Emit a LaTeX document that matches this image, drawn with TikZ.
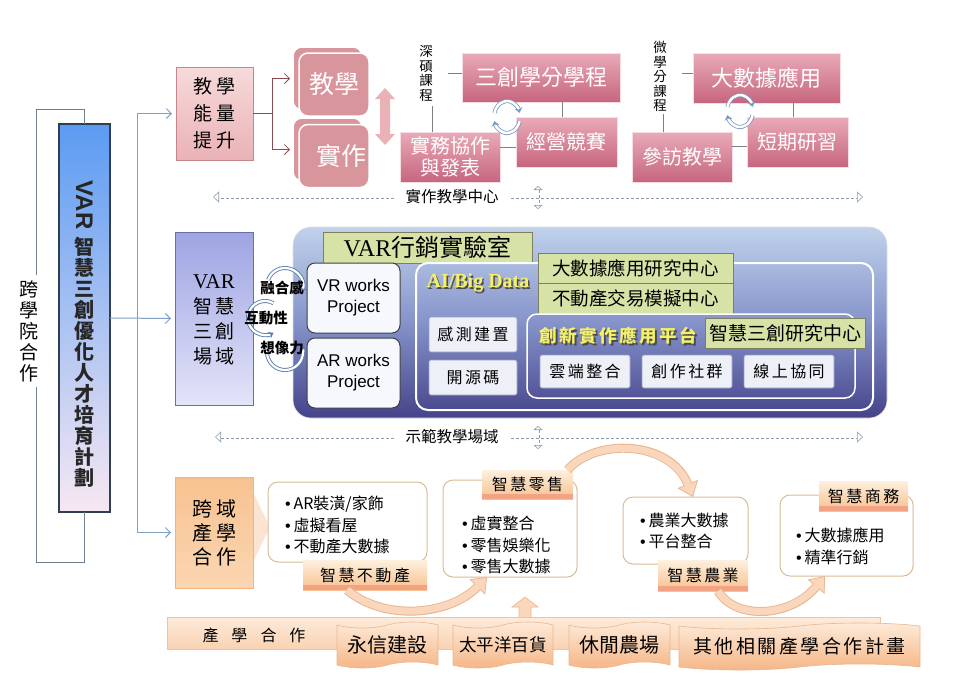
\documentclass[tikz,border=0pt]{standalone}
\usepackage{fontspec}
\setmainfont{Liberation Serif}
\setsansfont{Liberation Sans}
\newfontfamily\cjk{Noto Sans CJK TC}
\usetikzlibrary{arrows.meta,shapes.symbols,calc}

\definecolor{brk}{HTML}{6E7F90}
\definecolor{conn}{HTML}{7FA0C0}
\definecolor{dred}{HTML}{8E4A4E}
\definecolor{pinkA}{HTML}{F7DADB}
\definecolor{pinkB}{HTML}{EAB2B6}
\definecolor{pinkD}{HTML}{C4868A}
\definecolor{cardc}{HTML}{D8959C}
\definecolor{roseT}{HTML}{E9AAB8}
\definecolor{roseB}{HTML}{C6667E}
\definecolor{grayln}{HTML}{7F7F7F}
\definecolor{dashc}{HTML}{8E9BAA}
\definecolor{lavT}{HTML}{9EA4E2}
\definecolor{lavB}{HTML}{E3E4F8}
\definecolor{lavD}{HTML}{6A6FA8}
\definecolor{panT}{HTML}{C0D2EB}
\definecolor{panM}{HTML}{8593CA}
\definecolor{panB}{HTML}{45438A}
\definecolor{olivebx}{HTML}{D6E2A6}
\definecolor{oliveD}{HTML}{7C8060}
\definecolor{ylw}{HTML}{F4F06A}
\definecolor{ringc}{HTML}{5B7FAE}
\definecolor{orT}{HTML}{F7C290}
\definecolor{orB}{HTML}{FBD6B2}
\definecolor{orD}{HTML}{F0B47C}
\definecolor{tanc}{HTML}{D9BC96}
\definecolor{labT}{HTML}{FEF0DE}
\definecolor{labB}{HTML}{F7C08E}
\definecolor{labS}{HTML}{F2A384}
\definecolor{peach}{HTML}{FAD7BC}
\definecolor{peachD}{HTML}{E9B690}
\definecolor{peachL}{HTML}{FCE4D3}
\definecolor{wavT}{HTML}{FEEBDA}
\definecolor{wavB}{HTML}{F5B585}
\definecolor{mainT}{HTML}{5B9BF2}
\definecolor{mainB}{HTML}{F7E8F2}
\definecolor{mainD}{HTML}{2F3E50}
\definecolor{wbx}{HTML}{EEF0F8}

\tikzset{
  every node/.style={inner sep=0pt, outer sep=0pt},
  txt/.style={font=\cjk, align=center},
  brkln/.style={draw=brk, line width=0.9pt},
  connln/.style={draw=conn, line width=1pt, -{Straight Barb[length=5pt,width=10pt]}, shorten >=4pt},
  redln/.style={draw=dred, line width=1.2pt},
  redarr/.style={draw=dred, line width=0.8pt, -{Straight Barb[length=5pt,width=10pt]}, shorten >=3pt},
  grayl/.style={draw=grayln, line width=1pt},
  pinkbox/.style={draw=pinkD, line width=0.8pt, top color=pinkA, bottom color=pinkB},
  cardbox/.style={fill=cardc, draw=white, line width=1.5pt, rounded corners=9pt},
  rosebox/.style={draw=white!60!roseT, line width=0.8pt, top color=roseT, bottom color=roseB, text=white, align=center},
  dsh/.style={draw=dashc, densely dashed, line width=0.6pt, double=white, double distance=1.8pt},
  dshtip/.style={-{Triangle[open, length=6pt, width=11pt]}},
  greenbox/.style={draw=oliveD, line width=0.6pt, fill=olivebx, font=\cjk\fontsize{18.5}{19}\selectfont},
  wbox/.style={draw=lavD!70, line width=0.6pt, fill=wbx, rounded corners=2pt, minimum width=88pt, minimum height=35pt, font=\cjk\fontsize{16}{16}\selectfont},
  sbox/.style={draw=lavD!70, line width=0.6pt, fill=wbx, rounded corners=2pt, minimum width=90pt, minimum height=33pt, font=\cjk\fontsize{16}{16}\selectfont},
  wcard/.style={draw=tanc, line width=1pt, fill=white, rounded corners=10pt},
  blist/.style={anchor=west, align=left, font=\cjk\fontsize{16}{21.5}\selectfont},
  lbl/.style={top color=labT, bottom color=labB, font=\cjk\fontsize{16}{16}\selectfont,
    path picture={\fill[labS] ([yshift=5pt]path picture bounding box.south west) rectangle (path picture bounding box.south east);}},
  cbo/.style={draw=peachD, line width=9pt, -{Triangle[length=14pt,width=22pt,line width=0.8pt,color=peachD,fill=peach]}},
  cbi/.style={draw=peach, line width=7pt, shorten >=13pt},
  wavebox/.style={tape, tape bend top=in and out, tape bend bottom=in and out, tape bend height=6pt, draw=peachD, line width=0.6pt, top color=wavT, bottom color=wavB, font=\cjk\fontsize{20}{20}\selectfont},
  ringst/.style={draw=ringc, line width=0.9pt, double=white, double distance=2.2pt, -{Stealth[length=5pt,width=7pt]}},
  refr/.style={draw=ringc!80, line width=0.8pt, double=white, double distance=2.5pt, -{Stealth[length=5pt,width=8pt]}},
}

\newcommand{\csp}{\hspace{2.5pt}}

\begin{document}
\begin{tikzpicture}[x=1pt,y=-1pt]
\useasboundingbox (0,0) rectangle (955,681);

% ---------- main vertical box ----------
\node[draw=mainD, line width=2.5pt, top color=mainT, bottom color=mainB, minimum width=51pt, minimum height=388pt] (main) at (84.5,318) {};
\node[font=\sffamily\bfseries\fontsize{24}{24}\selectfont, rotate=-90, text=black!85] (mainvar) at (84.5,205) {VAR};
\node[font=\cjk\bfseries\fontsize{20}{21}\selectfont, align=center, text=black!85] (maintxt) at (84.5,362) {智\\慧\\三\\創\\優\\化\\人\\才\\培\\育\\計\\劃};

% left bracket
\node[txt, font=\cjk\fontsize{19}{21}\selectfont, inner xsep=2pt, inner ysep=5pt] (kx) at (29,331) {跨\\學\\院\\合\\作};
\draw[brkln] (main.north) -- ++(0,-15) -| ([xshift=7pt]kx.north);
\draw[brkln] (main.south) -- ++(0,50) -| ([xshift=7pt]kx.south);

% ---------- top row ----------
\node[pinkbox, minimum width=77pt, minimum height=93pt, txt, font=\cjk\fontsize{19}{27}\selectfont] (tea) at (214.5,113.5) {教\hspace{4pt}學\\能\hspace{4pt}量\\提\hspace{4pt}升};

\node[cardbox, minimum width=69pt, minimum height=63pt] (jxb) at (327.5,78.5) {};
\node[cardbox, minimum width=70pt, minimum height=63pt, text=white, font=\cjk\fontsize{25}{25}\selectfont] (jx) at (334,84.5) {教學};
\node[cardbox, minimum width=69pt, minimum height=63pt] (szb) at (327.5,149.5) {};
\node[cardbox, minimum width=70pt, minimum height=63pt, text=white, font=\cjk\fontsize{25}{25}\selectfont] (sz) at (334,156) {\hspace*{15pt}實作};

\coordinate (h1) at (272,113.5);
\draw[redln] (tea.east) -- (h1);
\draw[redarr] (h1) |- (jxb.west);
\draw[redarr] (h1) |- (szb.west);

% vertical double block arrow
\fill[pinkB] (385,88) -- (395,99) -- (390,99) -- (390,134) -- (395,134) -- (385,145) -- (375,134) -- (380,134) -- (380,99) -- (375,99) -- cycle;

% 深碩課程 group
\node[txt, font=\cjk\fontsize{13.5}{14.5}\selectfont] (deep) at (426,73.5) {深\\碩\\課\\程};
\node[rosebox, minimum width=158pt, minimum height=49pt, font=\cjk\fontsize{22}{24}\selectfont] (sanc) at (541,77.5) {三創學分學程};
\node[rosebox, minimum width=101pt, minimum height=50pt, font=\cjk\fontsize{20}{22}\selectfont] (jy) at (566.5,142) {經營競賽};
\node[rosebox, minimum width=100pt, minimum height=50pt, font=\cjk\fontsize{20}{22}\selectfont] (sw) at (450,157) {實務協作\\與發表};
\draw[grayl] ([yshift=4pt]sanc.west) -- ++(-14,0);
\draw[grayl, shorten <=5pt] ([xshift=6pt]deep.south) -- ([xshift=6pt]deep.south |- sw.north);
\draw[grayl] ([xshift=-4.5pt]jy.north) -- ([xshift=-4.5pt]jy.north |- sanc.south);
\draw[grayl] ([yshift=-5pt]jy.west) -- ([yshift=-5pt]jy.west -| sw.east);
\draw[refr] (507,117) ++(195:13 and 16) arc[start angle=195, end angle=345, x radius=13, y radius=16];
\draw[refr] (507,117) ++(15:13 and 16) arc[start angle=15, end angle=165, x radius=13, y radius=16];

% 微學分課程 group
\node[txt, font=\cjk\fontsize{13.5}{14.6}\selectfont] (micro) at (660,76.5) {微\\學\\分\\課\\程};
\node[rosebox, minimum width=147pt, minimum height=50pt, font=\cjk\fontsize{22}{24}\selectfont] (bd) at (766.5,78) {大數據應用};
\node[rosebox, minimum width=101pt, minimum height=50pt, font=\cjk\fontsize{20}{22}\selectfont] (dq) at (797.5,142) {短期研習};
\node[rosebox, minimum width=100pt, minimum height=50pt, font=\cjk\fontsize{20}{22}\selectfont] (cf) at (682,157) {參訪教學};
\draw[grayl] ([yshift=5pt]bd.west) -- ++(-11,0);
\draw[grayl, shorten <=2pt] ([xshift=3pt]micro.south) -- ([xshift=3pt]micro.south |- cf.north);
\draw[grayl] ([xshift=-4.5pt]dq.north) -- ([xshift=-4.5pt]dq.north |- bd.south);
\draw[grayl] ([yshift=-4pt]dq.west) -- ([yshift=-4pt]dq.west -| cf.east);
\draw[refr] (740,111) ++(195:13 and 16) arc[start angle=195, end angle=345, x radius=13, y radius=16];
\draw[refr] (740,111) ++(15:13 and 16) arc[start angle=15, end angle=165, x radius=13, y radius=16];

% dashed row 1
\node[txt, font=\cjk\fontsize{15.5}{16}\selectfont, inner xsep=12pt] (ct1) at (452,197) {實作教學中心};
\coordinate (d1l) at (213,197);
\coordinate (d1r) at (863,197);
\draw[dsh, dshtip] (ct1.west) -- (d1l);
\draw[dsh, dshtip] (ct1.east) -- (d1r);
\coordinate (v1t) at (538,186);
\coordinate (v1b) at (538,209);
\draw[dsh, {Triangle[open,length=4pt,width=9pt]}-{Triangle[open,length=4pt,width=9pt]}] (v1t) -- (v1b);

% ---------- middle row ----------
\node[draw=lavD, line width=0.8pt, top color=lavT, bottom color=lavB, minimum width=78pt, minimum height=173pt] (vs) at (214,318.5) {};
\node[txt, font=\cjk\fontsize{19}{25}\selectfont] (vst) at (214,320) {{\rmfamily\fontsize{21}{25}\selectfont VAR}\\智\hspace{4pt}慧\\三\hspace{4pt}創\\場\hspace{4pt}域};

\node[rounded corners=18pt, draw=white!75!gray, line width=0.6pt, top color=panT, bottom color=panB, middle color=panM, minimum width=594pt, minimum height=191pt] (bp) at (590,322.5) {};
\node[draw=oliveD, line width=0.6pt, fill=olivebx, minimum width=209pt, minimum height=31pt, font=\fontsize{24}{24}\selectfont] (lab) at (427.5,247.5) {VAR{\cjk 行銷實驗室}};

\draw[ringst] (285,286) ++(200:18) arc[start angle=200, end angle=380, radius=18];
\draw[ringst] (265,318) ++(300:17) arc[start angle=300, end angle=60, radius=17];
\draw[ringst] (285,352) ++(200:18) arc[start angle=200, end angle=-20, radius=18];

\node[draw=black!75, line width=1pt, fill=white!92!lavT, rounded corners=8pt, minimum width=93pt, minimum height=70pt, font=\sffamily\fontsize{17}{21}\selectfont, align=center] (vr) at (353.5,298) {VR works\\Project};
\node[draw=black!75, line width=1pt, fill=white!92!lavT, rounded corners=8pt, minimum width=93pt, minimum height=70pt, font=\sffamily\fontsize{17}{21}\selectfont, align=center] (ar) at (353.5,373) {AR works\\Project};

\node[font=\cjk\bfseries\fontsize{14.5}{15}\selectfont] (rh) at (282,288) {融合感};
\node[font=\cjk\bfseries\fontsize{14.5}{15}\selectfont] (hd) at (266,318) {互動性};
\node[font=\cjk\bfseries\fontsize{14.5}{15}\selectfont] (xx) at (282,348) {想像力};

\node[draw=white, line width=2pt, rounded corners=12pt, minimum width=457pt, minimum height=147pt] (ai) at (644.5,336.5) {};
\node[font=\bfseries\fontsize{20}{20}\selectfont, text=black!70] (aish) at (479.5,284.5) {AI/Big Data};
\node[font=\bfseries\fontsize{20}{20}\selectfont, text=ylw] (aitxt) at (478,283) {AI/Big Data};

\node[greenbox, minimum width=195pt, minimum height=30pt] (c1) at (635.5,268) {大數據應用研究中心};
\node[greenbox, minimum width=195pt, minimum height=31pt] (c2) at (635.5,298.5) {不動產交易模擬中心};

\node[wbox] (gc) at (473,334.5) {感\csp 測\csp 建\csp 置};
\node[wbox] (ky) at (473,377.5) {開\csp 源\csp 碼};

\node[draw=white, line width=1.5pt, rounded corners=10pt, minimum width=328pt, minimum height=84pt] (cx) at (691,356) {};
\node[font=\cjk\bfseries\fontsize{17.5}{18}\selectfont, text=black!70] (cxsh) at (620,337.5) {創\csp 新\csp 實\csp 作\csp 應\csp 用\csp 平\csp 台};
\node[font=\cjk\bfseries\fontsize{17.5}{18}\selectfont, text=ylw] (cxtxt) at (618.5,336) {創\csp 新\csp 實\csp 作\csp 應\csp 用\csp 平\csp 台};
\node[greenbox, minimum width=160pt, minimum height=30pt, font=\cjk\fontsize{19}{19}\selectfont] (c3) at (785,333) {智慧三創研究中心};

\node[sbox] (yd) at (585,371.5) {雲\csp 端\csp 整\csp 合};
\node[sbox] (cz) at (687,371.5) {創\csp 作\csp 社\csp 群};
\node[sbox] (xs) at (789,371.5) {線\csp 上\csp 協\csp 同};

% dashed row 2
\node[txt, font=\cjk\fontsize{15.5}{16}\selectfont, inner xsep=12pt] (ct2) at (452,437) {示範教學場域};
\coordinate (d2l) at (215,437);
\coordinate (d2r) at (863,437);
\draw[dsh, dshtip] (ct2.west) -- (d2l);
\draw[dsh, dshtip] (ct2.east) -- (d2r);
\coordinate (v2t) at (538,426);
\coordinate (v2b) at (538,449);
\draw[dsh, {Triangle[open,length=4pt,width=9pt]}-{Triangle[open,length=4pt,width=9pt]}] (v2t) -- (v2b);

% ---------- bottom row ----------
\fill[peachL] (250,486) -- (270,527) -- (250,568) -- cycle;
\node[draw=orD, line width=0.8pt, top color=orT, bottom color=orB, minimum width=78pt, minimum height=111pt, txt, font=\cjk\fontsize{20}{24}\selectfont] (kyc) at (214,532.5) {跨\hspace{4pt}域\\產\hspace{4pt}學\\合\hspace{4pt}作};

% connectors from main
\coordinate (hub) at (137,318);
\draw[connln] (main.east) -- (vs.west);
\draw[connln] (hub) |- (tea.west);
\draw[connln] (hub) |- (kyc.west);

\node[wcard, minimum width=159pt, minimum height=80pt] (k1) at (347.5,522) {};
\node[blist] (k1t) at (285,525) {{\sffamily •}\hspace{3pt}AR裝潢/家飾\\{\sffamily •}\hspace{3pt}虛擬看屋\\{\sffamily •}\hspace{3pt}不動產大數據};
\node[wcard, minimum width=134pt, minimum height=97pt] (k2) at (510,528.5) {};
\node[blist] (k2t) at (462,545) {{\sffamily •}\hspace{3pt}虛實整合\\{\sffamily •}\hspace{3pt}零售娛樂化\\{\sffamily •}\hspace{3pt}零售大數據};
\node[wcard, minimum width=125pt, minimum height=67pt] (k3) at (685.5,530.5) {};
\node[blist] (k3t) at (640,531) {{\sffamily •}\hspace{3pt}農業大數據\\{\sffamily •}\hspace{3pt}平台整合};
\node[wcard, minimum width=133pt, minimum height=81pt] (k4) at (846.5,535.5) {};
\node[blist] (k4t) at (796,546.5) {{\sffamily •}\hspace{3pt}大數據應用\\{\sffamily •}\hspace{3pt}精準行銷};

\node[lbl, minimum width=124pt, minimum height=30pt] (l1) at (365,575) {智\csp 慧\csp 不\csp 動\csp 產};
\node[lbl, minimum width=91pt, minimum height=29pt] (l2) at (527.5,484.5) {智\csp 慧\csp 零\csp 售};
\node[lbl, minimum width=90pt, minimum height=31pt] (l3) at (703,575.5) {智\csp 慧\csp 農\csp 業};
\node[lbl, minimum width=89pt, minimum height=30pt] (l4) at (863.5,496) {智\csp 慧\csp 商\csp 務};

% curved block arrows
\draw[cbo] ([xshift=-18pt]l1.south) .. controls (385,622) and (450,615) .. ([xshift=-23pt]k2.south);
\draw[cbi] ([xshift=-18pt]l1.south) .. controls (385,622) and (450,615) .. ([xshift=-23pt]k2.south);
\draw[cbo] ([xshift=40pt]l2.north) .. controls (595,438) and (670,440) .. ([xshift=7.5pt]k3.north);
\draw[cbi] ([xshift=40pt]l2.north) .. controls (595,438) and (670,440) .. ([xshift=7.5pt]k3.north);
\draw[cbo] ([xshift=15pt]l3.south) .. controls (735,620) and (790,618) .. ([xshift=-21.5pt]k4.south);
\draw[cbi] ([xshift=15pt]l3.south) .. controls (735,620) and (790,618) .. ([xshift=-21.5pt]k4.south);

% up arrow and banner
\filldraw[fill=peach, draw=peachD, line width=0.6pt] (525,597) -- (538,607) -- (531,607) -- (531,618) -- (519,618) -- (519,607) -- (512,607) -- cycle;
\node[draw=peachD!80, line width=0.6pt, top color=wavT, bottom color=peach!80!labB, minimum width=713pt, minimum height=32pt] (ban) at (523.5,633) {};
\node[font=\cjk\fontsize{16}{16}\selectfont] (bant) at (254,635) {產\hspace{13pt}學\hspace{13pt}合\hspace{13pt}作};

\node[wavebox, minimum width=101pt, minimum height=46pt] (w1) at (387.5,645) {永信建設};
\node[wavebox, minimum width=100pt, minimum height=46pt, font=\cjk\fontsize{17.5}{18}\selectfont] (w2) at (503,645) {太平洋百貨};
\node[wavebox, minimum width=101pt, minimum height=46pt] (w3) at (619.5,645) {休閒農場};
\node[wavebox, minimum width=241pt, minimum height=47pt, font=\cjk\fontsize{19}{19}\selectfont] (w4) at (799.5,646.5) {其\csp 他\csp 相\csp 關\csp 產\csp 學\csp 合\csp 作\csp 計\csp 畫};

\end{tikzpicture}
\end{document}
